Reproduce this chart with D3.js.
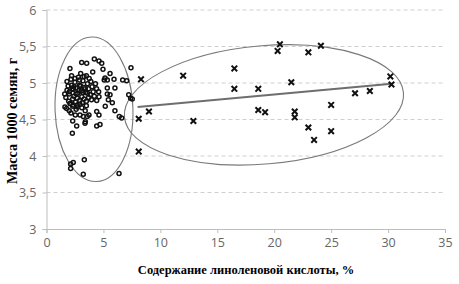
<!DOCTYPE html>
<html>
<head>
<meta charset="utf-8">
<script src="https://cdn.jsdelivr.net/npm/d3@7"></script>
<style>
  body { margin: 0; background: #fff; }
</style>
</head>
<body>
<div id="chart"></div>
<script>
// group 1 — low linolenic (circles)
const circlesX = [2.06,3.09,3.53,4.20,4.61,4.85,4.96,4.06,5.58,5.14,5.34,5.07,5.93,7.42,6.69,7.04,6.01,5.34,5.34,5.58,5.43,5.78,7.22,7.39,7.53,4.58,4.61,4.41,5.16,6.01,6.39,6.60,4.41,4.61,4.41,4.70,3.73,3.58,3.38,2.65,2.30,2.27,3.23,2.94,2.53,2.15,1.77,1.62,2.06,2.35,2.70,2.94,3.41,2.12,2.35,2.12,3.32,3.23,6.37,
  1.8,1.9,2.0,2.15,2.2,2.35,2.4,2.5,2.6,2.75,2.8,2.9,3.05,3.1,3.2,3.3,3.45,3.5,3.6,3.7,3.85,3.9,4.0,4.1,
  1.7,1.95,2.1,2.3,2.55,2.7,2.9,3.15,3.3,3.5,3.7,3.95,
  2.0,2.25,2.4,2.6,2.85,3.0,3.2,3.4,3.6,2.5,2.9,3.3,3.75,2.2,3.0,4.3,4.4,4.2,1.8,2.3,2.7,3.1,3.5,1.6,2.0,2.6,3.4];
const circlesY = [5.20,5.28,5.27,5.33,5.30,5.27,5.19,5.15,5.13,5.07,5.04,5.04,5.05,5.21,5.04,5.03,4.93,4.93,4.85,4.84,4.77,4.73,4.84,4.79,4.78,4.88,4.81,4.76,4.68,4.62,4.54,4.52,4.61,4.56,4.41,4.43,4.56,4.54,4.45,4.41,4.48,4.31,4.54,4.56,4.56,4.59,4.65,4.67,4.72,4.70,4.67,4.71,4.47,3.89,3.91,3.83,3.95,3.75,3.76,
  5.02,4.96,4.88,5.05,4.97,4.91,4.82,5.01,4.93,4.86,5.08,4.97,4.89,4.81,5.03,4.94,4.87,5.10,4.99,4.92,4.84,5.02,4.95,4.88,
  4.80,4.75,4.72,4.78,4.74,4.79,4.76,4.73,4.78,4.75,4.80,4.77,
  4.85,4.92,4.95,4.85,4.90,4.96,4.87,4.92,4.86,5.06,5.04,5.09,5.06,5.10,5.13,4.99,4.92,4.82,4.90,4.68,4.70,4.66,4.69,4.85,4.62,4.64,4.62];

// group 2 — high linolenic (crosses)
const crossesX = [8.1,8.1,8.3,9.0,12.0,12.9,16.5,16.5,18.6,18.6,19.2,20.3,20.5,21.5,21.8,21.8,23.0,23.0,23.5,24.1,25.0,25.0,27.1,28.4,30.2,30.3];
const crossesY = [4.06,4.51,5.05,4.61,5.10,4.48,5.20,4.92,4.92,4.63,4.60,5.44,5.53,5.01,4.61,4.53,5.42,4.39,4.22,5.51,4.70,4.34,4.86,4.89,5.09,4.98];

// trend line for group 2
const trendX = [8.0, 30.3];
const trendY = [4.67, 4.99];

const xTicks = [0,5,10,15,20,25,30,35];
const yTicks = [3,3.5,4,4.5,5,5.5,6];

const W = 459, H = 284;
const margin = { top: 10, right: 14, bottom: 55, left: 46.5 };

const svg = d3.select("#chart").append("svg")
  .attr("width", W).attr("height", H);

const x = d3.scaleLinear().domain([0, 35]).range([margin.left, W - margin.right]);
const y = d3.scaleLinear().domain([3, 6]).range([H - margin.bottom, margin.top]);

const fmt = d => String(d).replace(".", ",");

// grid
svg.append("g").selectAll("line")
  .data(yTicks.filter(d => d > 3))
  .join("line")
  .attr("x1", x(0)).attr("x2", x(35))
  .attr("y1", d => y(d)).attr("y2", d => y(d))
  .attr("stroke", "#cfcfcf").attr("stroke-dasharray", "4,3").attr("stroke-width", 1);

// axes
const gx = svg.append("g")
  .attr("transform", "translate(0," + y(3) + ")")
  .call(d3.axisBottom(x).tickValues(xTicks).tickSize(4).tickPadding(5).tickFormat(fmt));
const gy = svg.append("g")
  .attr("transform", "translate(" + x(0) + ",0)")
  .call(d3.axisLeft(y).tickValues(yTicks).tickSize(4).tickPadding(6).tickFormat(fmt));
[gx, gy].forEach(g => {
  g.select(".domain").attr("stroke", "#bdbdbd");
  g.selectAll(".tick line").attr("stroke", "#bdbdbd");
  g.selectAll("text").attr("fill", "#666").style("font-family", "Open Sans, sans-serif").style("font-size", "12.5px");
});

// ellipses
const e1 = { cx: 4.17, cy: 4.64, rx: 3.42, ry: 0.99, rot: -2 };
const e2 = { cx: 19.1, cy: 4.70, rx: 12.3, ry: 0.81, rot: -5 };
[e1, e2].forEach(e => {
  svg.append("ellipse")
    .attr("cx", 0).attr("cy", 0)
    .attr("rx", x(e.rx) - x(0))
    .attr("ry", y(0) - y(e.ry))
    .attr("transform", "translate(" + x(e.cx) + "," + y(e.cy) + ") rotate(" + e.rot + ")")
    .attr("fill", "none").attr("stroke", "#7a7a7a").attr("stroke-width", 1.1);
});

// circles
svg.append("g").selectAll("circle")
  .data(d3.range(circlesX.length))
  .join("circle")
  .attr("cx", i => x(circlesX[i])).attr("cy", i => y(circlesY[i]))
  .attr("r", 2)
  .attr("fill", "none").attr("stroke", "#111").attr("stroke-width", 1.5);

// trend line
svg.append("line")
  .attr("x1", x(trendX[0])).attr("y1", y(trendY[0]))
  .attr("x2", x(trendX[1])).attr("y2", y(trendY[1]))
  .attr("stroke", "#6e6e6e").attr("stroke-width", 2);

// crosses
svg.append("g").selectAll("path")
  .data(d3.range(crossesX.length))
  .join("path")
  .attr("transform", i => "translate(" + x(crossesX[i]) + "," + y(crossesY[i]) + ")")
  .attr("d", d3.symbol(d3.symbolX, 22))
  .attr("fill", "none").attr("stroke", "#111").attr("stroke-width", 2);

// titles
svg.append("text")
  .attr("x", 246).attr("y", 274)
  .attr("text-anchor", "middle")
  .style("font-family", "Liberation Serif, serif").style("font-weight", "bold").style("font-size", "12.5px")
  .text("Содержание линоленовой кислоты, %");
svg.append("text")
  .attr("transform", "translate(17," + (y(4.48)) + ") rotate(-90)")
  .attr("text-anchor", "middle")
  .style("font-family", "Liberation Serif, serif").style("font-weight", "bold").style("font-size", "14px")
  .text("Масса 1000 семян, г");
</script>
</body>
</html>
